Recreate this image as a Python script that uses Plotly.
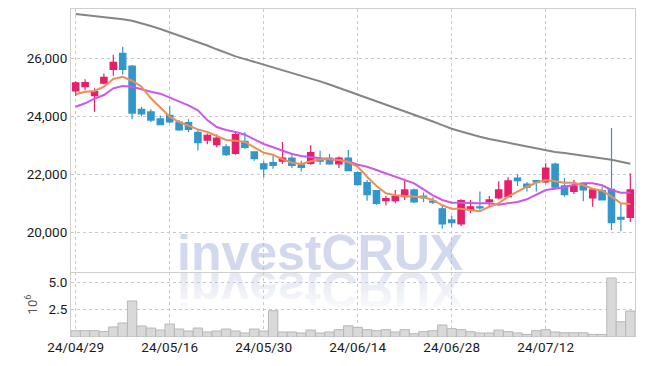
import base64
import plotly.graph_objects as go

dates = [
    "24/04/29", "24/04/30", "24/05/02", "24/05/03", "24/05/07", "24/05/08", "24/05/09", "24/05/10",
    "24/05/13", "24/05/14", "24/05/16", "24/05/17", "24/05/20", "24/05/21", "24/05/22", "24/05/23",
    "24/05/24", "24/05/27", "24/05/28", "24/05/29", "24/05/30", "24/05/31", "24/06/03", "24/06/04",
    "24/06/05", "24/06/07", "24/06/10", "24/06/11", "24/06/12", "24/06/13", "24/06/14", "24/06/17",
    "24/06/18", "24/06/19", "24/06/20", "24/06/21", "24/06/24", "24/06/25", "24/06/26", "24/06/27",
    "24/06/28", "24/07/01", "24/07/02", "24/07/03", "24/07/04", "24/07/05", "24/07/08", "24/07/09",
    "24/07/10", "24/07/11", "24/07/12", "24/07/15", "24/07/16", "24/07/17", "24/07/18", "24/07/19",
    "24/07/22", "24/07/23", "24/07/24", "24/07/25",
]

opens = [24870, 25010, 24700, 25130, 25610, 26160, 25720, 24230, 24140, 23900,
         24020, 23790, 23770, 23440, 23170, 23010, 22940, 22710, 23130, 22760,
         22350, 22390, 22440, 22550, 22320, 22370, 22510, 22550, 22350, 22550,
         22045, 21700, 21425, 21080, 21080, 21220, 21450, 21240, 21070, 20800,
         20415, 20280, 20760, 20870, 21035, 21175, 21220, 21860, 21655, 21770,
         21725, 22345, 21590, 21400, 21680, 21175, 21425, 21470, 20505, 20505]
highs = [25200, 25270, 24955, 25470, 26110, 26390, 25760, 24320, 24230, 24020,
         24340, 23860, 23890, 23540, 23400, 23360, 23030, 23450, 23450, 22780,
         22440, 22645, 23100, 22645, 22460, 22990, 22800, 22690, 22600, 22830,
         22080, 21790, 21450, 21240, 21450, 21840, 21500, 21360, 21200, 20940,
         20550, 21130, 21100, 21400, 21240, 21750, 21890, 22000, 21725, 21790,
         22370, 22390, 21860, 21790, 21700, 21520, 21560, 23590, 20990, 22025]
lows = [24690, 24900, 24150, 25090, 25390, 25430, 23890, 23980, 23790, 23680,
        23750, 23490, 23440, 22810, 23030, 22920, 22620, 22660, 22870, 22460,
        21890, 22180, 22345, 22210, 22090, 22320, 22320, 22320, 22210, 22100,
        21600, 21080, 20940, 20920, 20990, 21100, 21000, 21035, 20970, 20115,
        20185, 20210, 20645, 20760, 20900, 21130, 21200, 21590, 21400, 21400,
        21680, 21520, 21220, 21310, 21060, 20870, 21100, 20070, 20025, 20345]
closes = [25140, 25150, 24840, 25335, 25850, 25610, 24100, 24070, 23860, 23700,
          23800, 23520, 23540, 23080, 23330, 23240, 22670, 23360, 22920, 22530,
          22180, 22300, 22550, 22300, 22230, 22735, 22440, 22350, 22550, 22115,
          21630, 21290, 20990, 21150, 21220, 21450, 21035, 21175, 21030, 20280,
          20320, 21080, 20870, 20830, 21105, 21450, 21760, 21770, 21545, 21725,
          22205, 21545, 21290, 21590, 21450, 21450, 21105, 20320, 20440, 21450]

ma5 = [24748, 24838, 24862, 25010, 25276, 25355, 25217, 25010, 24610, 24276,
       23976, 23793, 23655, 23540, 23448, 23311, 23172, 23148, 23104, 22921,
       22735, 22666, 22507, 22390, 22345, 22438, 22507, 22507, 22483, 22414,
       22250, 21907, 21587, 21335, 21266, 21242, 21218, 21197, 21104, 20921,
       20804, 20804, 20759, 20714, 20873, 20990, 21218, 21404, 21562, 21700,
       21793, 21749, 21700, 21700, 21611, 21493, 21424, 21218, 20990, 20966]
ma20 = [24321, 24438, 24597, 24724, 24955, 25034, 25010, 24921, 24838, 24770,
        24645, 24507, 24369, 24197, 23860, 23620, 23517, 23448, 23355, 23197,
        23035, 22921, 22804, 22690, 22621, 22576, 22528, 22507, 22483, 22438,
        22321, 22252, 22138, 22024, 21931, 21818, 21680, 21473, 21266, 21104,
        21011, 21011, 20990, 20990, 20990, 20942, 20990, 21035, 21128, 21276,
        21449, 21494, 21542, 21631, 21680, 21680, 21611, 21449, 21355, 21355]
ma_long = [27517, 27483, 27441, 27396, 27362, 27334, 27283, 27200, 27103, 27000,
           26890, 26783, 26672, 26559, 26431, 26300, 26166, 26055, 25962, 25866,
           25772, 25679, 25590, 25500, 25407, 25300, 25193, 25086, 24972, 24859,
           24741, 24624, 24510, 24397, 24283, 24169, 24055, 23938, 23811, 23686,
           23559, 23466, 23362, 23283, 23207, 23142, 23069, 23000, 22938, 22876,
           22814, 22762, 22728, 22686, 22641, 22593, 22541, 22493, 22424, 22352]

volume = [0.58, 0.58, 0.58, 0.49, 0.92, 1.28, 3.30, 1.01, 0.82, 0.64,
          1.19, 0.73, 0.55, 0.82, 0.46, 0.55, 0.73, 0.55, 0.37, 0.73,
          0.55, 2.41, 0.46, 0.46, 0.37, 0.64, 0.37, 0.46, 0.67, 1.03,
          0.88, 0.67, 0.58, 0.67, 0.46, 0.67, 0.30, 0.49, 0.58, 1.10,
          0.76, 0.67, 0.49, 0.37, 0.37, 0.64, 0.49, 0.37, 0.24, 0.58,
          0.67, 0.46, 0.39, 0.39, 0.39, 0.24, 0.24, 5.40, 1.40, 2.38]

tick_labels = ["24/04/29", "24/05/16", "24/05/30", "24/06/14", "24/06/28", "24/07/12"]
price_ticks = [20000, 22000, 24000, 26000]
volume_ticks = [2.5, 5.0]
volume_tick_text = ["2.5", "5.0"]

RED = "#e4206a"
BLUE = "#3197ca"
ORANGE = "#ef8d55"
PURPLE = "#cb58ea"
GRAY = "#858585"
GRID = "#c4c8da"
BORDER = "#cfcfcf"
FONT = "Roboto, Liberation Sans, sans-serif"
TICKFONT = dict(family=FONT, size=13.5, color="#1a1a1a")

fig = go.Figure()
fig.add_trace(go.Candlestick(
    x=dates, open=opens, high=highs, low=lows, close=closes,
    increasing=dict(line=dict(color=RED, width=1.2), fillcolor=RED),
    decreasing=dict(line=dict(color=BLUE, width=1.2), fillcolor=BLUE),
    whiskerwidth=0, xaxis="x", yaxis="y", showlegend=False, hoverinfo="skip",
))
for series, color in [(ma_long, GRAY), (ma20, PURPLE), (ma5, ORANGE)]:
    fig.add_trace(go.Scatter(
        x=dates, y=series, mode="lines", line=dict(color=color, width=2),
        xaxis="x", yaxis="y", showlegend=False, hoverinfo="skip",
    ))
fig.add_trace(go.Bar(
    x=dates, y=volume,
    marker=dict(color="#d9d9d9", line=dict(color="#b8b8b8", width=1)),
    xaxis="x2", yaxis="y2", showlegend=False, hoverinfo="skip",
))

# mirrored watermark reflection (decorative)
svg = (
    '<svg xmlns="http://www.w3.org/2000/svg" width="320" height="60" viewBox="0 0 320 60">'
    '<defs><linearGradient id="g" x1="0" y1="0" x2="0" y2="1">'
    '<stop offset="0" stop-color="#d0d6ea" stop-opacity="0"/>'
    '<stop offset="0.45" stop-color="#d0d6ea" stop-opacity="0.35"/>'
    '<stop offset="1" stop-color="#d0d6ea" stop-opacity="0.75"/>'
    '</linearGradient></defs>'
    '<g transform="scale(1,-1)"><text x="160" y="0" text-anchor="middle" '
    'font-family="Liberation Sans, Arial, sans-serif" font-weight="bold" font-size="50" '
    'fill="url(#g)">investCRUX</text></g></svg>'
)
svg_uri = "data:image/svg+xml;base64," + base64.b64encode(svg.encode()).decode()

L, R, T, B = 71, 10, 9, 29
PW, PH = 645 - L - R, 366 - T - B


def px_x(px):
    return (px - L) / PW


def px_y(py):
    return (366 - B - py) / PH


split = px_y(272)

fig.update_layout(
    width=645, height=366,
    margin=dict(l=L, r=R, t=T, b=B, autoexpand=False),
    paper_bgcolor="white", plot_bgcolor="rgba(0,0,0,0)",
    showlegend=False, boxgap=0.3, boxgroupgap=0.03, bargap=0,
    font=dict(family=FONT, size=14, color="#333333"),
    xaxis=dict(
        type="category", domain=[0, 1], anchor="y", range=[-0.5, len(dates) - 0.5],
        tickvals=tick_labels, showticklabels=False, showgrid=True, gridcolor=GRID,
        griddash="dot", gridwidth=1, ticks="", showline=True, linecolor=BORDER,
        mirror=True, zeroline=False, rangeslider=dict(visible=False), fixedrange=True,
        automargin=False,
    ),
    yaxis=dict(
        domain=[split, 1], anchor="x", range=[18621, 27690], tickvals=price_ticks,
        tickformat=",", showgrid=True, gridcolor=GRID, griddash="dot", gridwidth=1,
        ticks="", showline=True, linecolor=BORDER, mirror=True, zeroline=False,
        tickfont=TICKFONT, automargin=False,
    ),
    xaxis2=dict(
        type="category", domain=[0, 1], anchor="y2", range=[-0.5, len(dates) - 0.5],
        tickvals=tick_labels, ticktext=tick_labels, showgrid=True, gridcolor=GRID,
        griddash="dot", gridwidth=1, ticks="", showline=False, zeroline=False,
        tickfont=TICKFONT, automargin=False,
    ),
    yaxis2=dict(
        domain=[0, split], anchor="x2", range=[0, 5.95], tickvals=volume_ticks,
        ticktext=volume_tick_text, showgrid=True, gridcolor=GRID, griddash="dot",
        gridwidth=1, ticks="", showline=True, linecolor=BORDER, mirror=True,
        zeroline=False, tickfont=TICKFONT, automargin=False,
        title=dict(text="10<sup>6</sup>", font=dict(family=FONT, size=13, color="#555555"),
                   standoff=8),
    ),
    annotations=[dict(
        text="<b>investCRUX</b>", xref="paper", yref="paper",
        x=px_x(320), y=px_y(283), xanchor="center", yanchor="bottom", showarrow=False,
        font=dict(family="Liberation Sans, Arial, sans-serif", size=50,
                  color="rgba(165,178,220,0.5)"),
    )],
    images=[dict(
        source=svg_uri, xref="paper", yref="paper", x=px_x(160), y=px_y(272),
        sizex=320 / PW, sizey=60 / PH, sizing="stretch", xanchor="left", yanchor="top",
        layer="below",
    )],
)

fig.write_html(
    "out.html",
    config={"displayModeBar": False, "staticPlot": True},
    post_script="document.body.style.margin='0';",
)
